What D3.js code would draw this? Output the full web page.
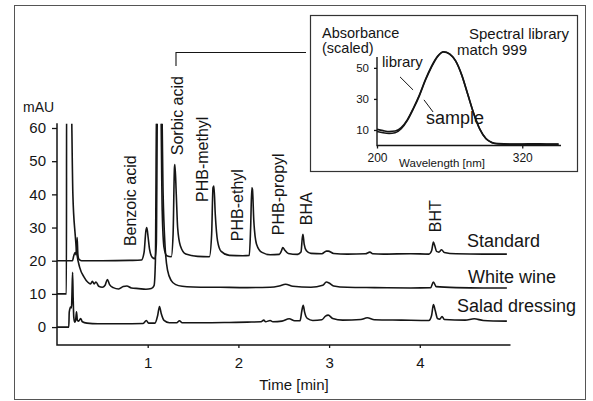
<!DOCTYPE html>
<html>
<head>
<meta charset="utf-8">
<script src="https://cdn.jsdelivr.net/npm/d3@7"></script>
<style>
  body { margin: 0; background: #fff; }
  svg { display: block; font-family: "Liberation Sans", Arial, sans-serif; }
</style>
</head>
<body>
<div id="chart"></div>
<script>
// chromatogram traces: [time in min, mAU]; peaks above 61 mAU run off the plot
var standard = [[0,20],[0.17,20],[0.185,21.5],[0.2,22.5],[0.21,21.8],[0.215,24],[0.222,27],[0.23,22],[0.24,20.5],[0.27,20],
  [0.5,20],[0.8,20.1],[0.93,20.2],[0.96,22.5],[0.98,29],[0.99,30],[1.005,27],[1.02,23.5],[1.05,21],[1.08,20.6],
  [1.095,25],[1.11,75],[1.14,75],[1.16,35],[1.18,24],[1.21,21.5],[1.26,21.2],[1.28,28],[1.295,48],[1.30,49],
  [1.315,40],[1.33,30],[1.36,24.5],[1.42,22],[1.55,21.3],[1.68,21.2],[1.705,28],[1.72,42],[1.73,42.5],[1.745,34],
  [1.77,26],[1.81,22.8],[1.9,21.6],[2.05,21.5],[2.12,21.6],[2.135,30],[2.148,42],[2.155,41.5],[2.17,32],[2.2,25],
  [2.26,22.5],[2.35,21.8],[2.45,21.9],[2.475,23],[2.49,24],[2.51,23.2],[2.55,22.2],[2.65,21.9],[2.69,22.6],[2.705,27],
  [2.712,28],[2.725,25],[2.75,23],[2.8,22.2],[2.92,22.1],[2.97,22.9],[2.99,22.9],[3.05,22.2],[3.2,22],[3.4,22.1],
  [3.45,22.6],[3.48,22.1],[3.6,22],[3.9,22.1],[4.1,22],[4.13,23],[4.15,25.6],[4.165,24.5],[4.185,22.8],[4.21,22.6],
  [4.24,23.3],[4.27,22.5],[4.4,22.1],[4.7,22],[4.96,22]];

var whiteWine = [[0,10],[0.104,10],[0.106,80],[0.15,80],[0.175,40],[0.2,28],[0.22,22],[0.25,18],[0.3,15],[0.34,13.5],
  [0.37,13],[0.39,13.8],[0.41,13],[0.43,13.6],[0.46,12.3],[0.5,12],[0.53,12.6],[0.555,14.3],[0.58,12.8],[0.62,11.9],
  [0.68,11.5],[0.73,12.2],[0.77,12.4],[0.82,11.8],[0.9,11.6],[0.98,11.4],[1.04,11.6],[1.07,12.5],[1.085,20],[1.1,75],
  [1.15,75],[1.17,40],[1.19,25],[1.22,17],[1.26,14],[1.31,12.8],[1.38,12.3],[1.5,12.1],[1.8,12],[2.1,11.9],
  [2.35,12],[2.45,12.4],[2.52,12.9],[2.6,12.3],[2.8,12],[2.93,12.6],[2.97,13.6],[3.0,13.3],[3.05,12.4],[3.2,12],
  [3.5,11.9],[3.9,11.8],[4.12,11.9],[4.15,13.6],[4.18,12.2],[4.4,11.9],[4.7,11.8],[4.96,11.8]];

var saladDressing = [[0,0],[0.13,0],[0.135,4.5],[0.15,6],[0.16,5.8],[0.165,10],[0.172,16.5],[0.178,9],[0.185,3],[0.195,1.5],
  [0.205,2],[0.215,4.6],[0.225,2],[0.24,1.8],[0.26,2.6],[0.28,1.6],[0.33,1.2],[0.45,1],[0.7,1],[0.95,1.1],
  [0.985,2],[1.01,1.2],[1.08,1.2],[1.11,3.5],[1.13,6.2],[1.15,4],[1.18,2],[1.24,1.3],[1.32,1.3],[1.35,1.9],
  [1.38,1.3],[1.6,1.3],[1.9,1.4],[2.1,1.5],[2.25,1.6],[2.28,2.1],[2.3,1.6],[2.35,2],[2.38,1.6],[2.48,1.8],
  [2.56,2.5],[2.62,1.9],[2.68,1.9],[2.70,5],[2.715,6.6],[2.73,4.5],[2.76,2.6],[2.82,2],[2.92,2.2],[2.96,3.3],
  [2.99,3.6],[3.04,2.6],[3.15,2.1],[3.35,2.3],[3.42,2.8],[3.5,2.2],[3.8,2.1],[4.1,2],[4.13,3.5],[4.15,6.8],
  [4.17,5],[4.195,2.6],[4.22,2.4],[4.245,3.2],[4.27,2.3],[4.5,2.1],[4.6,2.5],[4.7,2],[4.96,1.8]];

var traceNames = ['Standard', 'White wine', 'Salad dressing'];

// compound labels: name, time of label, mAU where the rotated text starts
var peakNames = ['Benzoic acid', 'Sorbic acid', 'PHB-methyl', 'PHB-ethyl', 'PHB-propyl', 'BHA', 'BHT'];
var peakLabelTimes = [0.805, 1.323, 1.599, 1.984, 2.437, 2.745, 4.168];
var peakLabelBase = [24.4, 51.8, 37.7, 25.9, 27.7, 30.7, 28.6];

var yTicks = [0, 10, 20, 30, 40, 50, 60];
var xTicks = [1, 2, 3, 4];

// UV spectrum inset
var wavelengths = [200,205,210,215,220,225,230,235,240,245,250,255,260,265,270,275,280,285,290,295,300,310,320,330,340,350];
var libraryAbs = [10.4,9.6,9.0,9.3,11.5,16.5,24,32.5,42.5,51,57.5,60.4,59,54.5,45.5,33,20.5,10.5,4.5,2,1.3,1,1,1.1,1,1];
var sampleAbs  = [9.0,8.2,7.8,8.2,10.8,16,23.5,32,42,50.5,57.2,60.2,58.8,54.3,45.3,32.8,20.3,10.3,4.3,1.8,1.0,0.7,0.8,0.9,0.7,0.8];
var insetYTicks = [10, 30, 50];
var insetXTicks = [200, 320];

var width = 593, height = 401;
var ink = '#151515';

var svg = d3.select('#chart').append('svg')
    .attr('width', width)
    .attr('height', height);

// outer frame
svg.append('rect')
    .attr('x', 14.5).attr('y', 5.5)
    .attr('width', 571).attr('height', 394)
    .style('fill', 'none')
    .style('stroke', '#555')
    .style('stroke-width', 1);

var xScale = d3.scaleLinear().domain([0, 5]).range([57, 510.5]),
    yScale = d3.scaleLinear().domain([-5.4, 60]).range([345, 128]);

function styleAxis(g, size) {
  g.attr('font-family', null).attr('font-size', null);
  g.select('.domain').remove();
  g.selectAll('line').style('stroke', ink).style('stroke-width', 1.3);
  g.selectAll('text').style('font-size', size).style('fill', ink);
}

var yAxis = svg.append('g')
    .attr('transform', 'translate(' + xScale(0) + ',0)')
    .call(d3.axisLeft(yScale).tickValues(yTicks).tickSize(5).tickPadding(6));
styleAxis(yAxis, '15px');

var xAxis = svg.append('g')
    .attr('transform', 'translate(0,' + yScale(-5.4) + ')')
    .call(d3.axisBottom(xScale).tickValues(xTicks).tickFormat(d3.format('d')).tickSize(3).tickPadding(9.5));
styleAxis(xAxis, '15px');

// L-shaped axis lines
svg.append('path')
    .attr('d', 'M' + xScale(0) + ',' + yScale(61.4) + 'V' + yScale(-5.4) + 'H' + xScale(5))
    .style('fill', 'none')
    .style('stroke', ink)
    .style('stroke-width', 1.5);

svg.append('text')
    .attr('x', 23).attr('y', 112)
    .style('font-size', '14px').style('fill', ink)
    .text('mAU');

svg.append('text')
    .attr('x', 294).attr('y', 390)
    .style('font-size', '15px').style('fill', ink)
    .style('text-anchor', 'middle')
    .text('Time [min]');

// clip off-scale peaks at the top of the y axis
svg.append('clipPath')
    .attr('id', 'plot-clip')
  .append('rect')
    .attr('x', xScale(0))
    .attr('y', yScale(61.3))
    .attr('width', xScale(5) - xScale(0))
    .attr('height', yScale(-5.4) - yScale(61.3));

// traces
var line = d3.line()
    .x(function(d) { return xScale(d[0]); })
    .y(function(d) { return yScale(d[1]); })
    .curve(d3.curveMonotoneX);

[standard, whiteWine, saladDressing].forEach(function(trace) {
  svg.append('path')
      .datum(trace)
      .attr('clip-path', 'url(#plot-clip)')
      .attr('d', line)
      .style('fill', 'none')
      .style('stroke', ink)
      .style('stroke-width', 1.6)
      .style('stroke-linejoin', 'round');
});

// trace names
var traceNameX = [467, 468, 457],
    traceNameY = [247, 283, 312];
svg.selectAll('.trace-name')
    .data(traceNames)
  .enter().append('text')
    .attr('class', 'trace-name')
    .attr('x', function(d, i) { return traceNameX[i]; })
    .attr('y', function(d, i) { return traceNameY[i]; })
    .style('font-size', '18px').style('fill', ink)
    .text(function(d) { return d; });

// rotated peak labels
svg.selectAll('.peak-label')
    .data(peakNames)
  .enter().append('text')
    .attr('class', 'peak-label')
    .attr('transform', function(d, i) {
      return 'translate(' + xScale(peakLabelTimes[i]) + ',' + yScale(peakLabelBase[i]) + ') rotate(-90)';
    })
    .attr('dy', '0.35em')
    .style('font-size', '16px').style('fill', ink)
    .text(function(d) { return d; });

// connector from sorbic acid to the spectrum inset
var sx = xScale(peakLabelTimes[1]) - 1;
svg.append('path')
    .attr('d', 'M' + sx + ',66V52.5H306')
    .style('fill', 'none')
    .style('stroke', ink)
    .style('stroke-width', 1.1);

// inset
svg.append('rect')
    .attr('x', 310.5).attr('y', 15.5)
    .attr('width', 267).attr('height', 156)
    .style('fill', '#fff')
    .style('stroke', '#333')
    .style('stroke-width', 1.2);

var ixScale = d3.scaleLinear().domain([200, 352]).range([377, 561]),
    iyScale = d3.scaleLinear().domain([0, 57]).range([145.5, 57]);

var iyAxis = svg.append('g')
    .attr('transform', 'translate(' + ixScale(200) + ',0)')
    .call(d3.axisLeft(iyScale).tickValues(insetYTicks).tickSize(3).tickPadding(5));
styleAxis(iyAxis, '11.5px');

var ixAxis = svg.append('g')
    .attr('transform', 'translate(0,' + iyScale(0) + ')')
    .call(d3.axisBottom(ixScale).tickValues(insetXTicks).tickSize(3).tickPadding(5));
styleAxis(ixAxis, '12px');

svg.append('path')
    .attr('d', 'M' + ixScale(200) + ',' + iyScale(57) + 'V' + iyScale(0) + 'H' + ixScale(352))
    .style('fill', 'none')
    .style('stroke', ink)
    .style('stroke-width', 1.4);

var spectrumLine = d3.line()
    .x(function(d, i) { return ixScale(wavelengths[i]); })
    .y(function(d) { return iyScale(d); })
    .curve(d3.curveMonotoneX);

[libraryAbs, sampleAbs].forEach(function(s) {
  svg.append('path')
      .datum(s)
      .attr('d', spectrumLine)
      .style('fill', 'none')
      .style('stroke', ink)
      .style('stroke-width', 1.6);
});

// inset leader lines
svg.append('line')
    .attr('x1', ixScale(219)).attr('y1', iyScale(44.2))
    .attr('x2', ixScale(229.8)).attr('y2', iyScale(35.8))
    .style('stroke', ink).style('stroke-width', 1);
svg.append('line')
    .attr('x1', ixScale(238.8)).attr('y1', iyScale(29.4))
    .attr('x2', ixScale(246.3)).attr('y2', iyScale(21.6))
    .style('stroke', ink).style('stroke-width', 1);

var insetTexts = [
  {t: 'Absorbance', x: 322, y: 38, s: '14.5px', a: 'start'},
  {t: '(scaled)', x: 322, y: 53, s: '14.5px', a: 'start'},
  {t: 'Spectral library', x: 569, y: 39, s: '15px', a: 'end'},
  {t: 'match 999', x: 457, y: 55, s: '15px', a: 'start'},
  {t: 'library', x: 382, y: 67, s: '15px', a: 'start'},
  {t: 'sample', x: 426, y: 124, s: '18px', a: 'start'},
  {t: 'Wavelength [nm]', x: 442, y: 167, s: '11.5px', a: 'middle'}
];
svg.selectAll('.inset-text')
    .data(insetTexts)
  .enter().append('text')
    .attr('class', 'inset-text')
    .attr('x', function(d) { return d.x; })
    .attr('y', function(d) { return d.y; })
    .style('font-size', function(d) { return d.s; })
    .style('text-anchor', function(d) { return d.a; })
    .style('fill', ink)
    .text(function(d) { return d.t; });
</script>
</body>
</html>
